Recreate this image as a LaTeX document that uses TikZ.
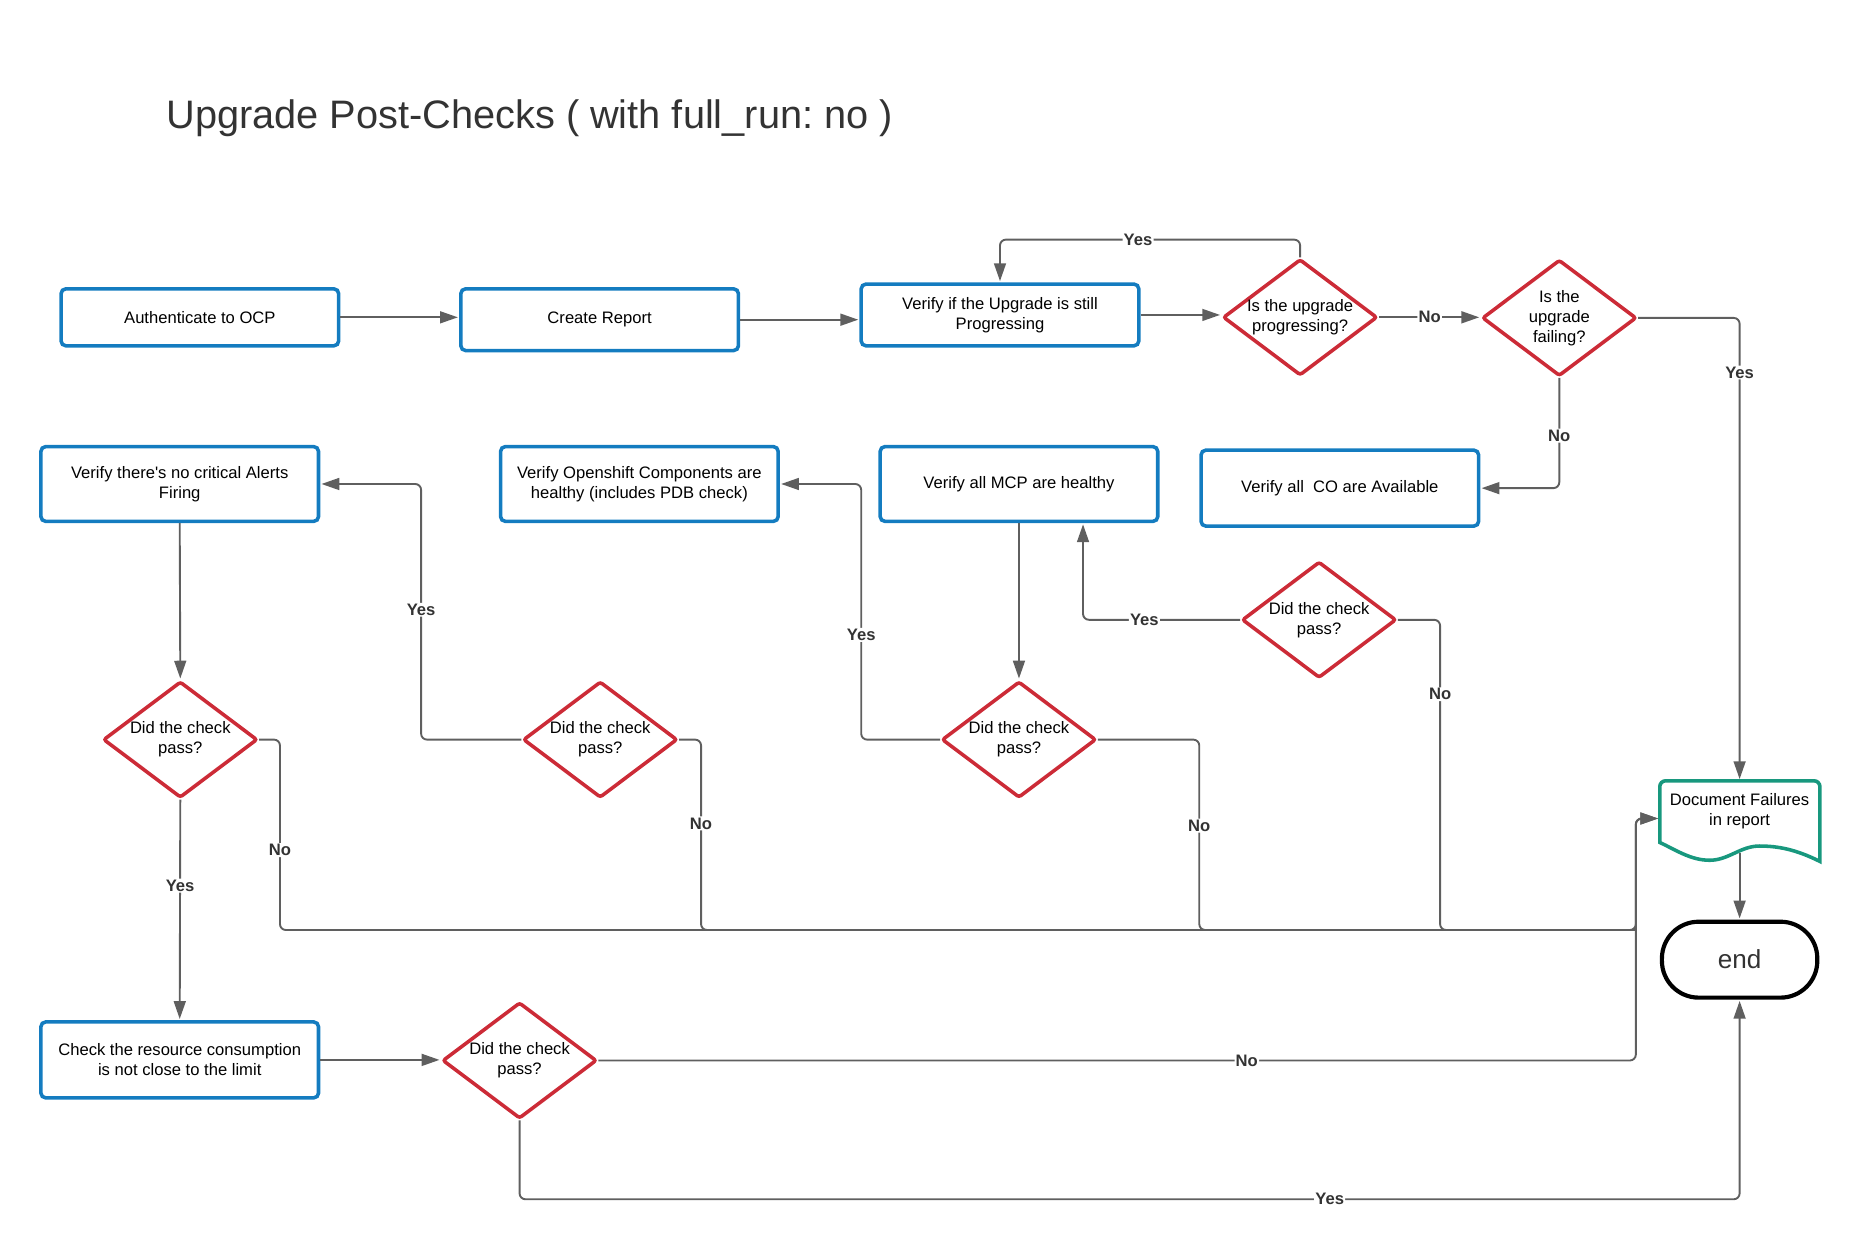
\documentclass[tikz,border=0pt]{standalone}
\usepackage{xcolor}
\usepackage{fontspec}
\setmainfont{Liberation Sans}
\usepackage{tikz}
\usetikzlibrary{shapes.geometric,arrows.meta}
\definecolor{boxblue}{RGB}{20,124,192}
\definecolor{askred}{RGB}{204,43,55}
\definecolor{docgreen}{RGB}{24,152,126}
\definecolor{linegray}{RGB}{95,95,95}
\definecolor{ink}{RGB}{51,51,51}
\frenchspacing

\begin{document}
\begin{tikzpicture}[x=1pt,y=-1pt,
    task/.style={draw=boxblue,line width=3pt,rounded corners=4pt,minimum width=234pt,minimum height=#1,align=center,inner sep=2pt,font=\fontsize{14}{17}\selectfont},
    ask/.style={draw=askred,line width=3pt,diamond,rounded corners=2pt,minimum width=130pt,minimum height=98pt,inner sep=0pt,label={[align=center,font=\fontsize{14}{17}\selectfont]center:#1}},
    link/.style={draw=linegray,line width=1.6pt,rounded corners=5pt},
    flow/.style={link,-{Triangle[length=15pt,width=10pt]},shorten >=1pt},
    lbl/.style={fill=white,text=ink,inner sep=1pt,font=\bfseries\fontsize{14}{16}\selectfont}]
                  \useasboundingbox (0,0) rectangle (1568,1054.6);
                  \node[anchor=base west,inner sep=0pt,text=ink,font=\fontsize{33.5}{40}\selectfont] (title) at (140,108) {Upgrade Post-Checks ( with full\_run: no )};

                  \node[task=48pt] (auth) at (168.5,267.5) {Authenticate to OCP};
                  \node[task=52pt] (report) at (505.5,269.5) {Create Report};
                  \node[task=52pt] (progress) at (843,265.5) {Verify if the Upgrade is still\\Progressing};
                  \node[ask={Is the upgrade\\progressing?}] (d1) at (1096,267.5) {};
                  \node[ask={Is the\\upgrade\\failing?}] (d2) at (1314.5,268) {};
                  \node[task=64pt] (co) at (1129.5,411.5) {Verify all\ \ CO are Available};
                  \node[task=63pt] (mcp) at (859,408) {Verify all MCP are healthy};
                  \node[task=63pt] (ocomp) at (539,408) {Verify Openshift Components are\\healthy (includes PDB check)};
                  \node[task=63pt] (alerts) at (151.5,408) {Verify there\textquotesingle{}s no critical Alerts\\Firing};
                  \node[ask={Did the check\\pass?}] (d3) at (1112,522.5) {};
                  \node[ask={Did the check\\pass?}] (d4) at (152,623.5) {};
                  \node[ask={Did the check\\pass?}] (d5) at (506,623.5) {};
                  \node[ask={Did the check\\pass?}] (d6) at (859,623.5) {};
                  \node[task=64pt] (resource) at (151.5,893.5) {Check the resource consumption\\is not close to the limit};
                  \node[ask={Did the check\\pass?}] (d7) at (438,894) {};
                  \node[minimum width=135pt,minimum height=68pt,label={[align=center,yshift=8pt,font=\fontsize{14}{17}\selectfont]center:Document Failures\\in report}] (doc) at (1466.5,692) {};
                  \draw[draw=docgreen,line width=3pt,shift={(doc.south east)}] (-135,-16) [rounded corners=5pt] -- (-135,-68) -- (0,-68) -- (0,-20) [sharp corners] -- (0,0) .. controls (-20,-10) and (-35,-13) .. (-51,-13) .. controls (-67,-13) and (-77,-1) .. (-93,-1) .. controls (-109,-1) and (-122,-10) .. (-135,-16) -- cycle;
                  \node[draw=black,line width=3.5pt,rounded corners=31pt,minimum width=131pt,minimum height=64pt,text=ink,font=\fontsize{22}{26}\selectfont] (finish) at (1466.5,809) {end};
                  \coordinate (merge) at (1379,784);

                  \draw[flow] (auth.east) -- (auth.east -| report.west);
                  \draw[flow] (report.east) -- (report.east -| progress.west);
                  \draw[flow] (progress.east) -- (progress.east -| d1.west);
                  \draw[flow] (d1.north) -- (d1.north |- 0,202) -- node[lbl,pos=0.54] {Yes} (progress.north |- 0,202) -- (progress.north);
                  \draw[flow] (d1.east) -- node[lbl] {No} (d1.east -| d2.west);
                  \draw[flow] (d2.east) -| node[lbl,pos=0.559] {Yes} (doc.north);
                  \draw[flow] (d2.south) |- node[lbl,pos=0.262] {No} (co.east);
                  \draw[flow] (mcp.south) -- (d6.north);
                  \draw[flow] (d3.west) -| node[lbl,pos=0.305] {Yes} ([xshift=54pt]mcp.south);
                  \draw[flow] (d6.west) -| node[lbl,pos=0.705] {Yes} (726,408) -- (ocomp.east);
                  \draw[flow] (d5.west) -| node[lbl,pos=0.754] {Yes} (355,408) -- (alerts.east);
                  \draw[flow] (alerts.south) -- (d4.north);
                  \draw[flow] (d4.south) -- node[lbl,pos=0.39] {Yes} (resource.north);
                  \draw[flow] (resource.east) -- (resource.east -| d7.west);
                  \draw[link] (d5.east) -| node[lbl,pos=0.72] {No} (591,784) -- (merge);
                  \draw[link] (d6.east) -| node[lbl,pos=0.726] {No} (1011,784) -- (merge);
                  \draw[link] (d3.east) -| node[lbl,pos=0.62] {No} (1214,784) -- (merge);
                  \draw[flow] (d4.east) -| node[lbl,pos=0.79] {No} (236,784) -- (merge) |- ([yshift=2pt]doc.west);
                  \draw[flow] (d7.east) -| node[lbl,pos=0.3125] {No} (merge) |- ([yshift=2pt]doc.west);
                  \draw[flow] (d7.south) |- node[lbl,pos=0.832] {Yes} (finish.south |- 0,1011) -- (finish.south);
                  \draw[flow] ([yshift=7pt]doc.south) -- (finish.north);
              \end{tikzpicture}
\end{document}
